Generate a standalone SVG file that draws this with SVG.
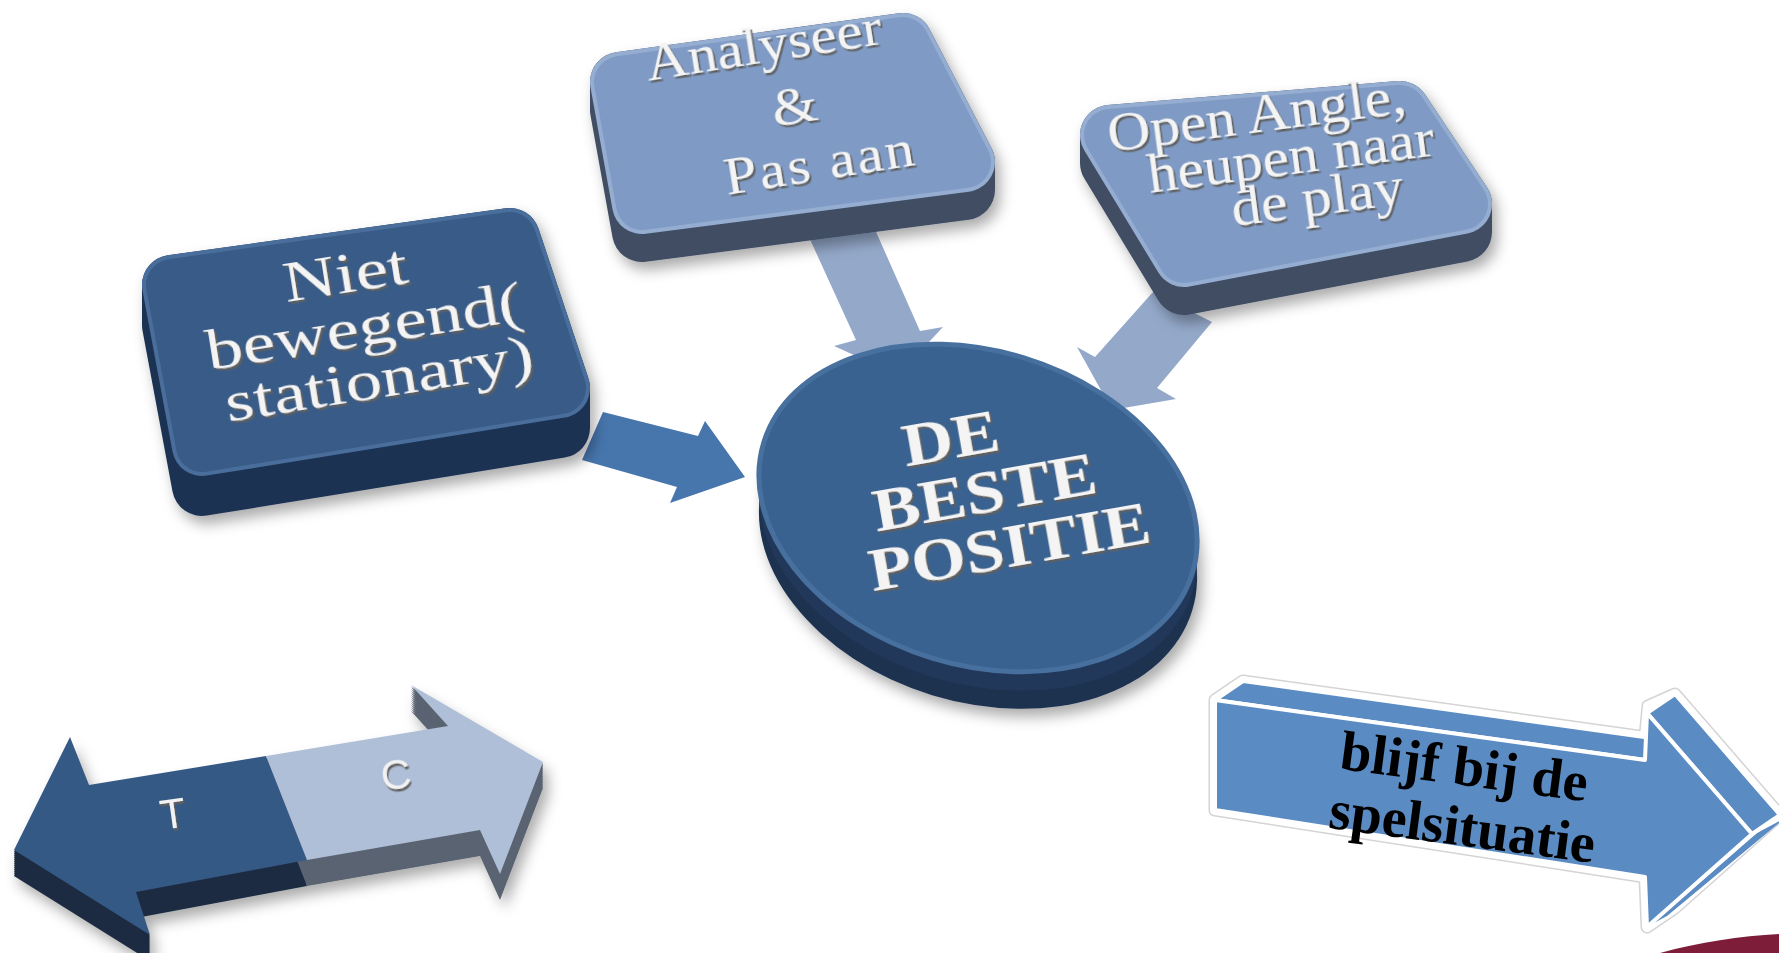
<svg xmlns="http://www.w3.org/2000/svg" width="1779" height="953" viewBox="0 0 1779 953">
<defs>
<style>
.nt{font-family:"Liberation Serif","Times New Roman",serif;fill:#f4f4f4;text-anchor:middle;}
.bt{font-family:"Liberation Serif","Times New Roman",serif;font-weight:bold;fill:#f4f4f4;text-anchor:middle;}
.at{font-family:"Liberation Serif","Times New Roman",serif;font-weight:bold;fill:#000;text-anchor:middle;}
.tc{font-family:"Liberation Sans",Arial,sans-serif;fill:#f2f2f2;text-anchor:middle;}
.rd{stroke-linejoin:round;}
.ts{fill:#1b2b42;}
.cs{fill:#5a6371;}
</style>
<filter id="sh" x="-20%" y="-20%" width="150%" height="150%">
<feDropShadow dx="5" dy="8" stdDeviation="7" flood-color="#000" flood-opacity="0.33"/>
</filter>
<filter id="ts" x="-10%" y="-10%" width="130%" height="140%">
<feDropShadow dx="1.5" dy="2.5" stdDeviation="0.6" flood-color="#5e5e5e" flood-opacity="1"/>
</filter>
<linearGradient id="gDark" x1="0" y1="0" x2="0" y2="1">
<stop offset="0" stop-color="#2a4669"/><stop offset="1" stop-color="#16253b"/>
</linearGradient>
<linearGradient id="gLight" x1="0" y1="0" x2="0" y2="1">
<stop offset="0" stop-color="#5d6d88"/><stop offset="1" stop-color="#36445a"/>
</linearGradient>
<path id="tface" d="M14,850 L70,737 L89,785 L266,756 L307,860 L136,892 L150,935 Z"/>
<path id="cface" d="M266,756 L448,726 L411,685 L543,762 L500,874 L480,830 L307,860 Z"/>
<ellipse id="circ" cx="0" cy="0" rx="224" ry="157"/>
</defs>

<rect width="1779" height="953" fill="#ffffff"/>

<!-- connectors -->
<g id="connectors">
<polygon points="603,412 698,436 705,421 745,477 670,503 677,487 582,460" fill="#4776ad"/>
<polygon points="808,235 873,225 920,331 943,327 898,375 834,346 856,340" fill="#94a9ca"/>
<polygon points="1153,292 1212,322 1157,388 1176,399 1112,410 1077,347 1095,357" fill="#94a9ca"/>
</g>

<!-- left node -->
<g id="node-niet">
<polygon class="rd" points="172,285 510,238 560,388 560,428 202,486 172,325" fill="url(#gDark)" stroke="#1d3252" stroke-width="60" filter="url(#sh)"/>
<polygon class="rd" points="172,285 510,238 560,388 202,446" fill="#4a6e9c" stroke="#4a6e9c" stroke-width="60"/>
<polygon class="rd" points="172,285 510,238 560,388 202,446" fill="#385b88" stroke="#385b88" stroke-width="52"/>
<g transform="translate(367,345) rotate(-9) scale(1.3,1)" filter="url(#ts)">
<text class="nt" font-size="56" x="-8" y="-55">Niet</text>
<text class="nt" font-size="56" x="0" y="0">bewegend(</text>
<text class="nt" font-size="56" x="5" y="54">stationary)</text>
</g>
</g>

<!-- top node -->
<g id="node-analyseer">
<polygon class="rd" points="620,82 903,43 965,162 965,190 642,232 620,110" fill="url(#gLight)" stroke="#3f4d63" stroke-width="60" filter="url(#sh)"/>
<polygon class="rd" points="620,82 903,43 965,162 642,204" fill="#95add0" stroke="#95add0" stroke-width="60"/>
<polygon class="rd" points="620,82 903,43 965,162 642,204" fill="#7f9bc5" stroke="#7f9bc5" stroke-width="52"/>
<g transform="translate(797,123) rotate(-9) scale(1.11,1)" filter="url(#ts)">
<text class="nt" font-size="53" x="-19" y="-65">Analyseer</text>
<text class="nt" font-size="53" x="0" y="0">&amp;</text>
<text class="nt" font-size="53" x="15" y="60" letter-spacing="2">Pas aan</text>
</g>
</g>

<!-- right node -->
<g id="node-open">
<polygon class="rd" points="1110,135 1400,111 1462,204 1462,232 1184,285 1110,163" fill="url(#gLight)" stroke="#3f4d63" stroke-width="60" filter="url(#sh)"/>
<polygon class="rd" points="1110,135 1400,111 1462,204 1184,257" fill="#95add0" stroke="#95add0" stroke-width="60"/>
<polygon class="rd" points="1110,135 1400,111 1462,204 1184,257" fill="#7f9bc5" stroke="#7f9bc5" stroke-width="52"/>
<g transform="translate(1293,174) rotate(-7.5) scale(1.1,1)" filter="url(#ts)">
<text class="nt" font-size="54" x="-26" y="-46">Open Angle,</text>
<text class="nt" font-size="54" x="0" y="0">heupen naar</text>
<text class="nt" font-size="54" x="19" y="44">de play</text>
</g>
</g>

<!-- center circle -->
<g id="node-positie">
<g filter="url(#sh)">
<use href="#circ" transform="translate(978,545) rotate(17)" fill="#1c3150"/>
<use href="#circ" transform="translate(978,527) rotate(17)" fill="#22395a"/>
</g>
<use href="#circ" transform="translate(978,508) rotate(17)" fill="#3a6290" stroke="#47709f" stroke-width="5"/>
<g transform="translate(988,512) rotate(-10) scale(1.15,1)" filter="url(#ts)">
<text class="bt" font-size="61" x="-21" y="-59">DE</text>
<text class="bt" font-size="61" x="0" y="0">BESTE</text>
<text class="bt" font-size="61" x="13" y="58">POSITIE</text>
</g>
</g>

<!-- T / C double arrow -->
<g id="node-tc">
<g filter="url(#sh)">
<use href="#tface" class="ts" transform="translate(0,2)"/>
<use href="#tface" class="ts" transform="translate(0,4)"/>
<use href="#tface" class="ts" transform="translate(0,6)"/>
<use href="#tface" class="ts" transform="translate(0,8)"/>
<use href="#tface" class="ts" transform="translate(0,10)"/>
<use href="#tface" class="ts" transform="translate(0,12)"/>
<use href="#tface" class="ts" transform="translate(0,14)"/>
<use href="#tface" class="ts" transform="translate(0,16)"/>
<use href="#tface" class="ts" transform="translate(0,18)"/>
<use href="#tface" class="ts" transform="translate(0,20)"/>
<use href="#tface" class="ts" transform="translate(0,22)"/>
<use href="#tface" class="ts" transform="translate(0,24)"/>
<use href="#tface" class="ts" transform="translate(0,26)"/>
<use href="#cface" class="cs" transform="translate(0,2)"/>
<use href="#cface" class="cs" transform="translate(0,4)"/>
<use href="#cface" class="cs" transform="translate(0,6)"/>
<use href="#cface" class="cs" transform="translate(0,8)"/>
<use href="#cface" class="cs" transform="translate(0,10)"/>
<use href="#cface" class="cs" transform="translate(0,12)"/>
<use href="#cface" class="cs" transform="translate(0,14)"/>
<use href="#cface" class="cs" transform="translate(0,16)"/>
<use href="#cface" class="cs" transform="translate(0,18)"/>
<use href="#cface" class="cs" transform="translate(0,20)"/>
<use href="#cface" class="cs" transform="translate(0,22)"/>
<use href="#cface" class="cs" transform="translate(0,24)"/>
<use href="#cface" class="cs" transform="translate(0,26)"/>
</g>
<use href="#tface" fill="#355985"/>
<use href="#cface" fill="#afbfd7"/>
<g filter="url(#ts)">
<text class="tc" font-size="42" transform="translate(175,828) rotate(-8)">T</text>
<text class="tc" font-size="42" transform="translate(398,789) rotate(-8)">C</text>
</g>
</g>

<!-- big right arrow -->
<g id="node-blijf">
<polygon points="1215,700 1243,681 1645,737 1648,706 1675,694 1780,815 1675,908 1647,927 1645,877 1215,810" fill="#ffffff" stroke="#d4d4d4" stroke-width="13" stroke-linejoin="round"/>
<polygon points="1215,700 1243,681 1645,737 1648,706 1675,694 1780,815 1675,908 1647,927 1645,877 1215,810" fill="#ffffff" stroke="#ffffff" stroke-width="10" stroke-linejoin="round"/>
<polygon points="1757,833 1652,924 1667,916 1785,818" fill="#5b8bc3"/>
<polygon points="1215,700 1645,760 1673,741 1243,681" fill="#5b8bc3" stroke="#ffffff" stroke-width="4" stroke-linejoin="round"/>
<polygon points="1647,713 1752,834 1780,815 1675,694" fill="#5b8bc3" stroke="#ffffff" stroke-width="4" stroke-linejoin="round"/>
<polygon points="1215,700 1645,760 1647,713 1752,834 1647,927 1645,877 1215,810" fill="#5b8bc3" stroke="#ffffff" stroke-width="4" stroke-linejoin="round"/>
<g transform="translate(1462,785) rotate(7.5)">
<text class="at" font-size="56" x="0" y="0">blijf bij de</text>
<text class="at" font-size="56" x="6" y="60">spelsituatie</text>
</g>
</g>

<!-- corner decoration -->
<path d="M1660,953 C1700,942 1740,936 1779,934 L1779,953 Z" fill="#7e1d3a"/>
</svg>
